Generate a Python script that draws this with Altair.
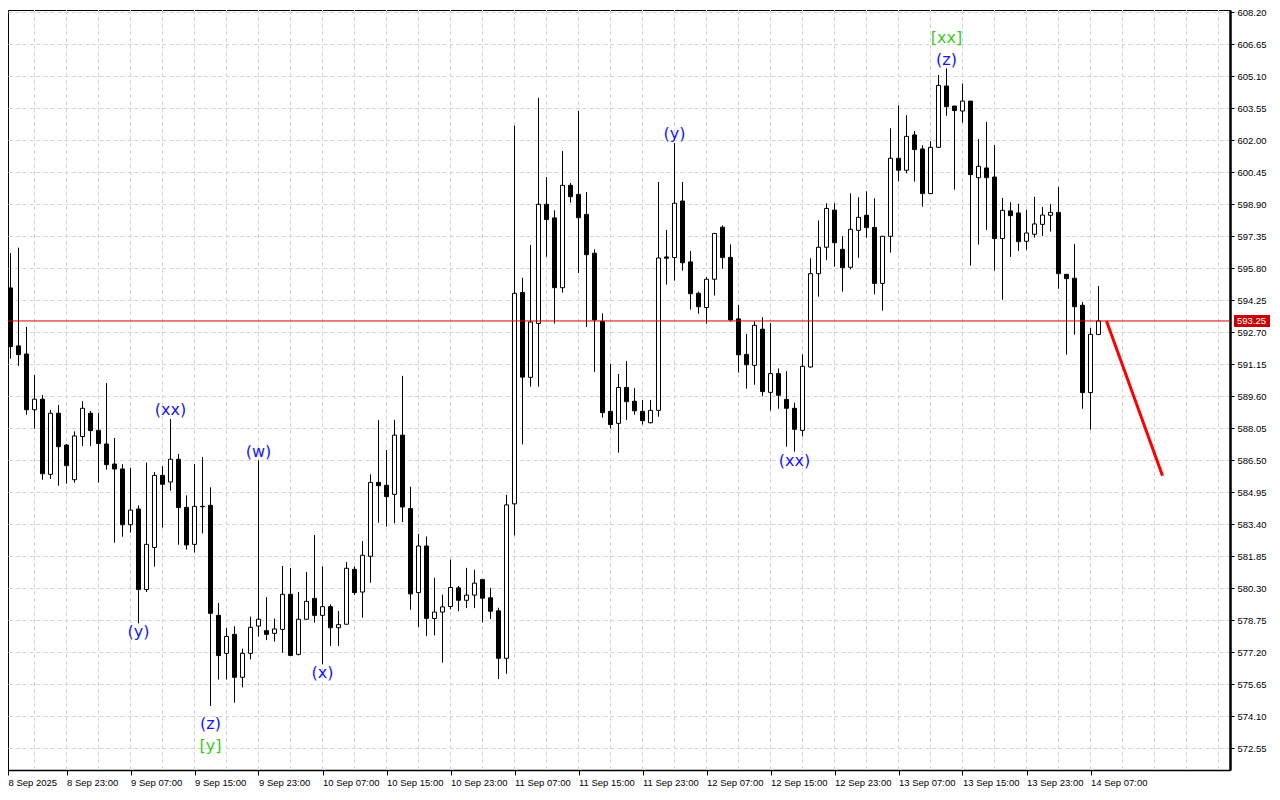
import json
import altair as alt
import pandas as pd

# ---------------- data (hourly candles, 8 Sep 15:00 -> 14 Sep 08:00) ----------------
opens = [594.62, 594.85, 592.04, 591.65, 588.95, 589.46, 585.82, 588.78, 587.24, 585.56,
         587.65, 588.78, 587.95, 587.29, 586.32, 586.08, 583.38, 584.14, 580.24, 582.28,
         585.77, 585.45, 586.55, 584.22, 582.43, 584.27, 584.32, 578.99, 577.15, 578.07,
         575.99, 577.15, 578.47, 578.25, 578.12, 578.31, 580.01, 577.10, 578.80, 579.81,
         578.99, 579.41, 578.39, 578.56, 581.22, 580.12, 581.85, 585.43, 585.29, 584.85,
         587.72, 584.16, 580.09, 582.35, 578.84, 579.15, 579.42, 580.32, 579.72, 579.97,
         580.72, 579.84, 579.21, 576.91, 584.39, 594.63, 590.52, 593.13, 598.90, 598.24,
         594.86, 599.82, 599.38, 598.41, 596.53, 593.23, 588.87, 588.29, 590.03, 589.36,
         588.87, 588.32, 588.92, 596.35, 596.32, 599.06, 596.11, 594.59, 593.90, 595.27,
         597.79, 596.33, 593.35, 591.63, 591.10, 592.85, 589.79, 590.70, 589.45, 589.02,
         587.95, 591.02, 595.54, 596.82, 598.62, 596.72, 595.85, 597.64, 598.37, 597.78,
         595.07, 597.35, 601.13, 600.55, 602.26, 601.58, 599.42, 601.66, 604.63, 603.66,
         603.42, 603.90, 600.19, 600.66, 600.22, 597.24, 598.58, 598.48, 597.11, 597.45,
         597.93, 598.37, 598.51, 595.51, 595.32, 594.01, 589.78, 592.59]
highs = [595.00, 596.54, 596.80, 592.96, 590.63, 589.66, 588.94, 589.18, 587.29, 587.90,
         589.37, 588.89, 588.79, 590.24, 587.58, 586.31, 586.13, 584.32, 586.39, 585.93,
         586.21, 588.50, 586.81, 584.80, 586.32, 586.66, 585.19, 579.59, 578.38, 578.46,
         577.38, 578.93, 586.50, 579.87, 578.83, 581.38, 581.28, 580.12, 581.09, 582.88,
         581.36, 579.52, 579.20, 581.57, 581.35, 582.59, 585.82, 588.45, 587.00, 588.46,
         590.59, 585.22, 582.94, 582.81, 580.81, 579.99, 581.69, 580.41, 581.29, 581.20,
         580.72, 580.32, 579.36, 584.83, 602.71, 595.34, 596.93, 604.06, 600.22, 598.61,
         601.48, 599.93, 603.42, 599.50, 596.72, 593.62, 591.16, 590.68, 591.31, 590.00,
         589.42, 589.42, 599.98, 597.66, 601.87, 599.98, 596.64, 594.67, 595.38, 597.50,
         597.88, 596.96, 594.02, 592.62, 593.23, 593.43, 593.15, 590.95, 590.82, 589.29,
         591.63, 596.28, 598.12, 598.95, 598.95, 597.35, 599.43, 599.24, 599.53, 599.19,
         597.35, 602.58, 603.69, 603.22, 602.45, 601.76, 601.97, 605.16, 605.49, 603.66,
         604.74, 603.90, 602.06, 602.89, 601.77, 599.21, 599.00, 598.93, 598.63, 599.26,
         598.77, 598.91, 599.74, 595.51, 596.98, 594.17, 592.91, 594.94]
lows = [594.40, 591.42, 591.07, 588.71, 588.03, 585.56, 585.60, 585.27, 585.37, 585.42,
        587.19, 587.19, 585.42, 586.05, 582.51, 582.80, 583.00, 578.60, 580.12, 581.35,
        583.24, 585.03, 582.41, 582.17, 582.03, 582.96, 574.60, 575.88, 575.88, 574.76,
        575.50, 576.86, 577.96, 577.79, 577.72, 577.18, 577.05, 577.05, 578.80, 578.64,
        576.62, 577.51, 577.51, 578.56, 579.98, 578.88, 580.57, 583.48, 583.29, 583.45,
        583.51, 579.26, 578.42, 577.98, 578.02, 576.70, 579.28, 579.19, 579.34, 579.34,
        578.65, 578.81, 575.90, 576.16, 582.86, 587.27, 590.07, 590.07, 596.36, 593.13,
        594.62, 598.98, 595.57, 592.96, 590.78, 588.57, 588.03, 586.87, 588.45, 588.71,
        588.23, 588.29, 588.61, 595.01, 595.20, 595.69, 593.80, 593.60, 593.12, 594.48,
        595.78, 593.23, 590.75, 589.97, 590.16, 589.60, 588.91, 589.00, 587.16, 586.92,
        587.66, 590.99, 594.43, 596.19, 595.88, 594.67, 595.75, 596.31, 597.28, 594.54,
        593.75, 596.56, 600.01, 600.40, 600.00, 598.79, 599.42, 601.63, 603.19, 599.61,
        602.86, 595.93, 596.95, 597.66, 595.69, 594.28, 596.35, 596.64, 596.70, 597.29,
        597.37, 597.58, 594.81, 591.62, 592.59, 589.00, 587.99, 592.59]
closes = [594.81, 592.01, 591.62, 588.95, 589.46, 585.85, 588.78, 587.16, 586.24, 587.68,
          589.02, 587.94, 587.31, 586.29, 586.08, 583.38, 584.09, 580.24, 582.43, 585.77,
          585.34, 586.55, 584.21, 582.40, 584.27, 584.25, 579.09, 577.04, 577.97, 575.99,
          577.15, 578.41, 578.80, 578.07, 578.33, 580.01, 577.05, 578.80, 579.67, 578.99,
          579.41, 578.39, 578.54, 581.27, 580.09, 581.90, 585.43, 585.27, 584.74, 587.72,
          584.24, 580.03, 582.35, 578.84, 579.15, 579.40, 580.34, 579.72, 579.97, 580.55,
          579.82, 579.19, 576.91, 584.34, 594.59, 590.53, 593.20, 598.90, 598.16, 594.86,
          599.82, 599.27, 598.25, 596.46, 593.30, 588.81, 588.23, 590.03, 589.34, 588.90,
          588.42, 588.92, 596.30, 596.29, 598.95, 596.07, 594.57, 593.94, 595.27, 597.49,
          596.32, 593.30, 591.61, 591.13, 593.04, 589.83, 590.70, 589.65, 589.02, 588.00,
          591.05, 595.54, 596.82, 598.70, 597.04, 595.83, 597.69, 598.27, 597.77, 595.07,
          597.35, 601.13, 600.55, 602.19, 601.55, 599.42, 601.66, 604.66, 603.63, 603.44,
          603.90, 600.34, 600.74, 600.19, 597.24, 598.61, 598.35, 597.09, 597.51, 597.95,
          598.38, 598.51, 595.54, 595.30, 593.94, 589.78, 592.60, 593.25]

x_tick_labels = ["8 Sep 2025", "8 Sep 23:00", "9 Sep 07:00", "9 Sep 15:00", "9 Sep 23:00",
                 "10 Sep 07:00", "10 Sep 15:00", "10 Sep 23:00", "11 Sep 07:00", "11 Sep 15:00",
                 "11 Sep 23:00", "12 Sep 07:00", "12 Sep 15:00", "12 Sep 23:00", "13 Sep 07:00",
                 "13 Sep 15:00", "13 Sep 23:00", "14 Sep 07:00"]
y_tick_values = [572.55, 574.10, 575.65, 577.20, 578.75, 580.30, 581.85, 583.40, 584.95,
                 586.50, 588.05, 589.60, 591.15, 592.70, 594.25, 595.80, 597.35, 598.90,
                 600.45, 602.00, 603.55, 605.10, 606.65, 608.20]

wave_text = ["(y)", "(xx)", "(z)", "[y]", "(w)", "(x)", "(y)", "(xx)", "(z)", "[xx]"]
wave_bar = [17, 21, 26, 26, 32, 40, 84, 99, 118, 118]
wave_price = [578.18, 588.94, 573.73, 572.66, 586.90, 576.20, 602.30, 586.47, 605.89, 606.96]
wave_color = ["#1414ff", "#1414ff", "#1414ff", "#3cc81e", "#1414ff", "#1414ff",
              "#1414ff", "#1414ff", "#1414ff", "#3cc81e"]

forecast_bar = [138, 145]
forecast_price = [593.25, 585.75]
last_price = 593.25

# ---------------- layout ----------------
W, H = 1222, 760
PAD_TOP = 2
PX_PER_BAR = 8.0
PX_PER_UNIT = 20.645
x_lo = 0.6875
x_hi = x_lo + W / PX_PER_BAR
y_hi = 608.312
y_lo = y_hi - H / PX_PER_UNIT
FONT = "Liberation Sans"
GRID = "#d4d4d4"

n = len(opens)
df = pd.DataFrame({"i": list(range(n)), "open": opens, "high": highs, "low": lows, "close": closes})
df["left"] = df["i"] - 0.25
df["right"] = df["i"] + 0.25
df["fill"] = ["white" if c >= o else "black" for o, c in zip(opens, closes)]

x_vals = [x_lo] + [8 * j for j in range(1, len(x_tick_labels))]
label_expr = json.dumps(x_tick_labels) + "[round(datum.value / 8)]"

x_axis = alt.Axis(title=None, orient="bottom", values=x_vals, labelExpr=label_expr, grid=False,
                  tickSize=5, tickColor="black", domainColor="black", domainWidth=1.5,
                  labelAlign="left", labelBaseline="top", labelPadding=2, labelFont=FONT,
                  labelFontSize=9.5, labelColor="black", labelFlush=False, labelOverlap=False,
                  labelBound=False)
y_axis = alt.Axis(title=None, orient="right", values=y_tick_values, format=".2f", grid=True,
                  gridColor=GRID, gridDash=[4, 3], gridWidth=1, tickSize=4, tickColor="black",
                  domainColor="black", domainWidth=2.5, labelPadding=3, labelFont=FONT,
                  labelFontSize=9.5, labelColor="black", labelOverlap=False, labelFlush=False,
                  labelBound=False)
x_scale = alt.Scale(domain=[x_lo, x_hi], nice=False, zero=False)
y_scale = alt.Scale(domain=[y_lo, y_hi], nice=False, zero=False)


def X(field):
    return alt.X(field, type="quantitative", scale=x_scale, axis=x_axis)


def Y(field):
    return alt.Y(field, type="quantitative", scale=y_scale, axis=y_axis)


grid_df = pd.DataFrame({"g": list(range(4, int(x_hi) + 1, 4))})
vgrid = alt.Chart(grid_df).mark_rule(color=GRID, strokeDash=[4, 3], strokeWidth=1).encode(x=X("g"))

wicks = alt.Chart(df).mark_rule(color="black", strokeWidth=1, clip=True).encode(
    x=X("i"), y=Y("low"), y2="high")

bodies = alt.Chart(df).mark_rect(stroke="black", strokeWidth=1, clip=True).encode(
    x=X("left"), x2="right", y=Y("open"), y2="close", fill=alt.Fill("fill:N", scale=None))

price_df = pd.DataFrame({"p": [last_price],
                         "top": [last_price + 6 / PX_PER_UNIT],
                         "bot": [last_price - 6 / PX_PER_UNIT],
                         "txt": [f"{last_price:.2f}"]})
hline = alt.Chart(price_df).mark_rule(color="#dd0000", strokeWidth=1).encode(y=Y("p"))

fc_df = pd.DataFrame({"b": forecast_bar, "p": forecast_price})
forecast = alt.Chart(fc_df).mark_line(color="#ff0000", strokeWidth=3).encode(x=X("b"), y=Y("p"))

wave_df = pd.DataFrame({"b": wave_bar, "p": wave_price, "t": wave_text, "c": wave_color})
waves = alt.Chart(wave_df).mark_text(font="DejaVu Sans", fontSize=16, align="center",
                                     baseline="middle").encode(
    x=X("b"), y=Y("p"), text="t:N", color=alt.Color("c:N", scale=None))

tag = alt.Chart(price_df).mark_rect(color="#c80000").encode(
    x=alt.value(W + 4), x2=alt.value(W + 40), y=Y("top"), y2="bot")
tag_text = alt.Chart(price_df).mark_text(color="white", font=FONT, fontSize=9.5, align="left",
                                         baseline="middle").encode(
    x=alt.value(W + 7), y=Y("p"), text="txt:N")

chart = alt.layer(vgrid, wicks, bodies, hline, forecast, waves, tag, tag_text).properties(
    width=W, height=H,
    autosize=alt.AutoSizeParams(type="none"),
    padding={"left": 0, "top": PAD_TOP, "right": 42, "bottom": 18},
    background="white",
).configure_view(stroke="black", strokeWidth=1, fill="white")

chart.save("out.html", embed_options={"renderer": "svg", "actions": False})
